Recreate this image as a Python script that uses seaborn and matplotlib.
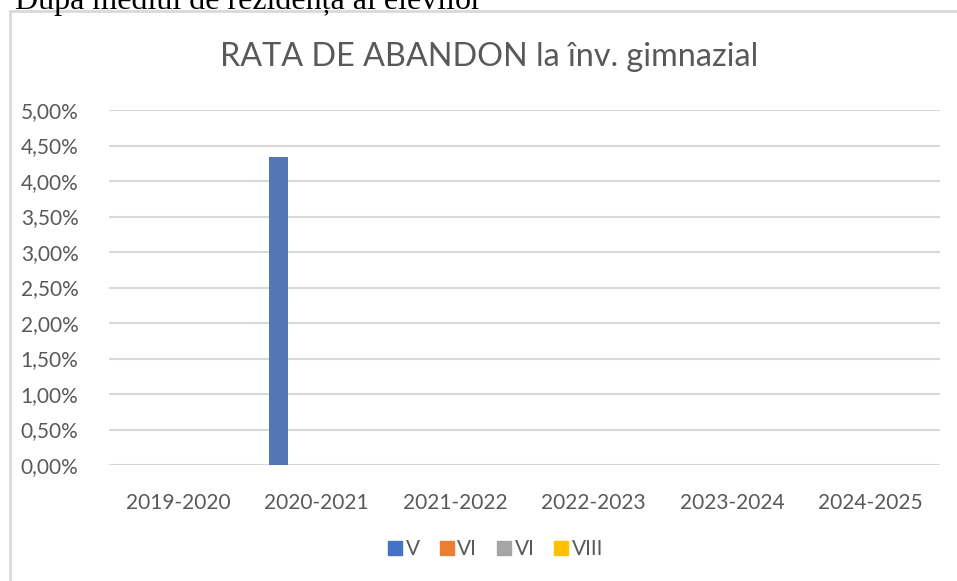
import pandas as pd
import numpy as np
import matplotlib.pyplot as plt
import seaborn as sns
from matplotlib.patches import Rectangle
from matplotlib.lines import Line2D
from matplotlib.ticker import FuncFormatter

# Date: rata de abandon (%) pe ani scolari si clase
ani = ['2019-2020', '2020-2021', '2021-2022', '2022-2023', '2023-2024', '2024-2025']
clase = ['V', 'VI', 'VII', 'VIII']
etichete_legenda = ['V', 'VI', 'VI', 'VIII']
rata_V = [0.0, 4.34, 0.0, 0.0, 0.0, 0.0]
rata_VI = [0.0, 0.0, 0.0, 0.0, 0.0, 0.0]
rata_VII = [0.0, 0.0, 0.0, 0.0, 0.0, 0.0]
rata_VIII = [0.0, 0.0, 0.0, 0.0, 0.0, 0.0]
culori = ['#4472C4', '#ED7D31', '#A5A5A5', '#FFC000']

df = pd.DataFrame({'an': ani * 4,
                   'clasa': [c for c in clase for _ in ani],
                   'rata': rata_V + rata_VI + rata_VII + rata_VIII})

sns.set_theme(style='white')
plt.rcParams['font.family'] = ['Lato', 'DejaVu Sans']

W, H = 957, 581
fig = plt.figure(figsize=(W / 100, H / 100), dpi=100)
ax = fig.add_axes([109 / W, 1 - 465 / H, (940 - 109) / W, (465 - 110) / H])

sns.barplot(data=df, x='an', y='rata', hue='clasa', hue_order=clase, order=ani,
            palette=culori, width=0.742, gap=0.26, linewidth=0, ax=ax, legend=False)

gri = '#595959'
ax.set_ylim(0, 5)
ax.set_yticks(np.arange(0, 5.01, 0.5))
ax.yaxis.set_major_formatter(FuncFormatter(lambda v, p: f'{v:.2f}%'.replace('.', ',')))
ax.grid(axis='y', color='#d9d9d9', linewidth=1.5)
ax.set_axisbelow(True)
for s in ax.spines.values():
    s.set_visible(False)
ax.tick_params(axis='both', length=0, labelsize=15, colors=gri)
ax.tick_params(axis='x', pad=20)
ax.tick_params(axis='y', pad=22)
ax.set_xlabel('')
ax.set_ylabel('')

fig.text(489 / W, 1 - 57 / H, 'RATA DE ABANDON la înv. gimnazial', ha='center', va='center',
         fontsize=23.3, color=gri)

# legenda jos
handles = [Line2D([], [], marker='s', linestyle='', markersize=10.5, color=c) for c in culori]
fig.legend(handles, etichete_legenda, loc='center', bbox_to_anchor=(495 / W, 1 - 549 / H),
           ncol=4, frameon=False, fontsize=15, labelcolor=gri, handletextpad=0.1,
           columnspacing=0.9, handlelength=0.8)

# chenarul graficului si textul taiat de sus
fig.patches.append(Rectangle((10 / W, -0.1), 1.2, 1.1 - 11 / H, transform=fig.transFigure,
                             fill=False, edgecolor='#d9d9d9', linewidth=2))
fig.text(15 / W, 1 - 9 / H, 'După mediul de rezidență al elevilor', ha='left', va='baseline',
         fontsize=23, color='black', family=['Liberation Serif', 'DejaVu Serif'])

fig.savefig('out.png', dpi=100, facecolor='white')
